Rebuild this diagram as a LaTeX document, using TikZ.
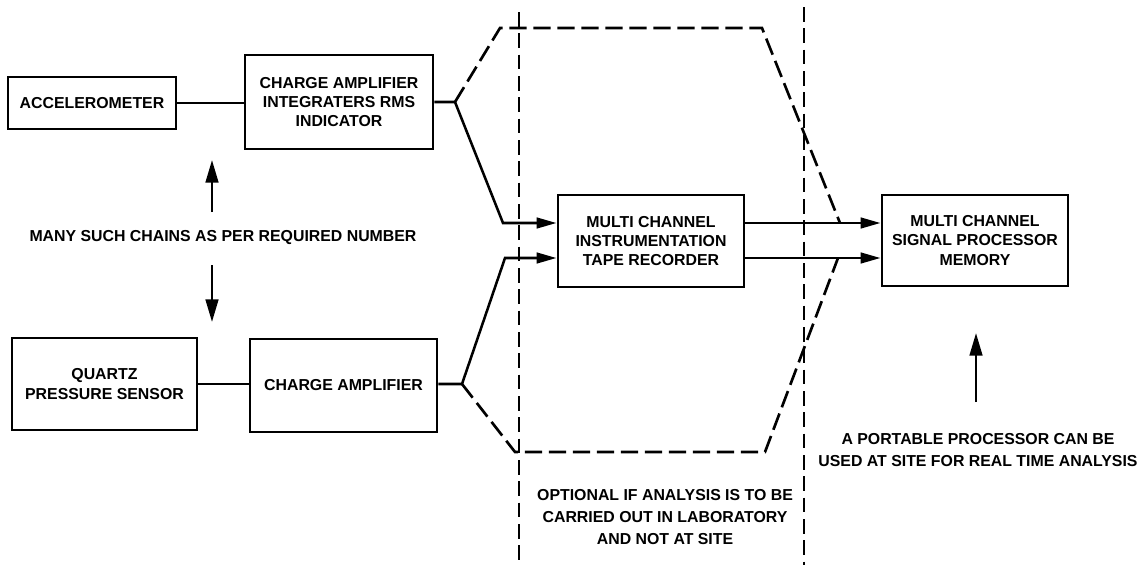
\documentclass[tikz,border=0pt]{standalone}
\usepackage{fontspec}
\setmainfont{Liberation Sans}
\usetikzlibrary{arrows.meta,calc}
\newcommand{\boxfont}{\fontsize{11.9}{14.5}\selectfont\bfseries}
\newcommand{\notefont}{\fontsize{11.9}{16.5}\selectfont\bfseries}
\begin{document}
\begin{tikzpicture}[x=0.75pt,y=-0.75pt,
  box/.style={draw,line width=2.2pt,align=center,font=\boxfont,inner sep=2pt},
  wire/.style={line width=1.9pt},
  dsh/.style={line width=2pt,dash pattern=on 13pt off 5pt},
  fence/.style={line width=1.8pt,dash pattern=on 11pt off 5pt},
  arr/.style={wire,-{Triangle[length=15pt,width=8pt]}},
  varr/.style={wire,-{Triangle[length=17pt,width=9.5pt]}},
  note/.style={align=center,font=\notefont}]
\useasboundingbox (0,0) rectangle (1146,565);

% blocks
\node[box,minimum width=126pt,minimum height=39pt] (acc) at (92,103) {ACCELEROMETER};
\node[box,minimum width=141pt,minimum height=70.5pt] (ca1) at (339,102) {CHARGE AMPLIFIER\\INTEGRATERS RMS\\INDICATOR};
\node[box,minimum width=139.5pt,minimum height=69pt] (tape) at (651,241) {MULTI CHANNEL\\INSTRUMENTATION\\TAPE RECORDER};
\node[box,minimum width=139.5pt,minimum height=68.25pt] (proc) at (975,240.5) {MULTI CHANNEL\\SIGNAL PROCESSOR\\MEMORY};
\node[box,minimum width=138.75pt,minimum height=69pt] (qps) at (104.5,384) {QUARTZ\\PRESSURE SENSOR};
\node[box,minimum width=140.25pt,minimum height=69.75pt] (ca2) at (343.5,385.5) {CHARGE AMPLIFIER};

% routing points
\coordinate (b1) at (455,102);
\coordinate (k1) at (503,223);
\coordinate (b2) at (462,384);
\coordinate (k2) at (505,258);
\coordinate (d1) at (500,28);
\coordinate (d2) at (762,28);
\coordinate (d3) at (840,223);
\coordinate (e1) at (515,452);
\coordinate (e2) at (765,452);
\coordinate (e3) at (838,258);

% signal chains
\draw[wire] (acc.east) -- (acc.east -| ca1.west);
\draw[wire] (qps.east |- b2) -- (qps.east -| ca2.west);
\draw[arr] (ca1.east |- b1) -- (b1) -- (k1) -- (k1 -| tape.west);
\draw[arr] (ca2.east |- b2) -- (b2) -- (k2) -- (k2 -| tape.west);
\draw[arr] (tape.east |- k1) -- (proc.west |- k1);
\draw[arr] (tape.east |- k2) -- (proc.west |- k2);

% bypass paths
\draw[dsh] (b1) -- (d1) -- (d2) -- (d3);
\draw[dsh] (b2) -- (e1) -- (e2) -- (e3);

% zone boundaries
\coordinate (f1t) at (519,12);
\coordinate (f1b) at (519,565);
\coordinate (f2t) at (804,7);
\coordinate (f2b) at (804,565);
\draw[fence] (f1t) -- (f1b);
\draw[fence] (f2t) -- (f2b);

% notes
\node[note] (many) at (223,238) {MANY SUCH CHAINS AS PER REQUIRED NUMBER};
\coordinate (u0) at (212,212);
\coordinate (u1) at (212,160);
\coordinate (w0) at (212,265);
\coordinate (w1) at (212,322);
\draw[varr] (u0) -- (u1);
\draw[varr] (w0) -- (w1);

\node[note] (port) at (978,450) {A PORTABLE PROCESSOR CAN BE\\USED AT SITE FOR REAL TIME ANALYSIS};
\coordinate (p0) at (976,402);
\coordinate (p1) at (976,333);
\draw[varr] (p0) -- (p1);

\node[note] (opt) at (665,517) {OPTIONAL IF ANALYSIS IS TO BE\\CARRIED OUT IN LABORATORY\\AND NOT AT SITE};
\end{tikzpicture}
\end{document}
